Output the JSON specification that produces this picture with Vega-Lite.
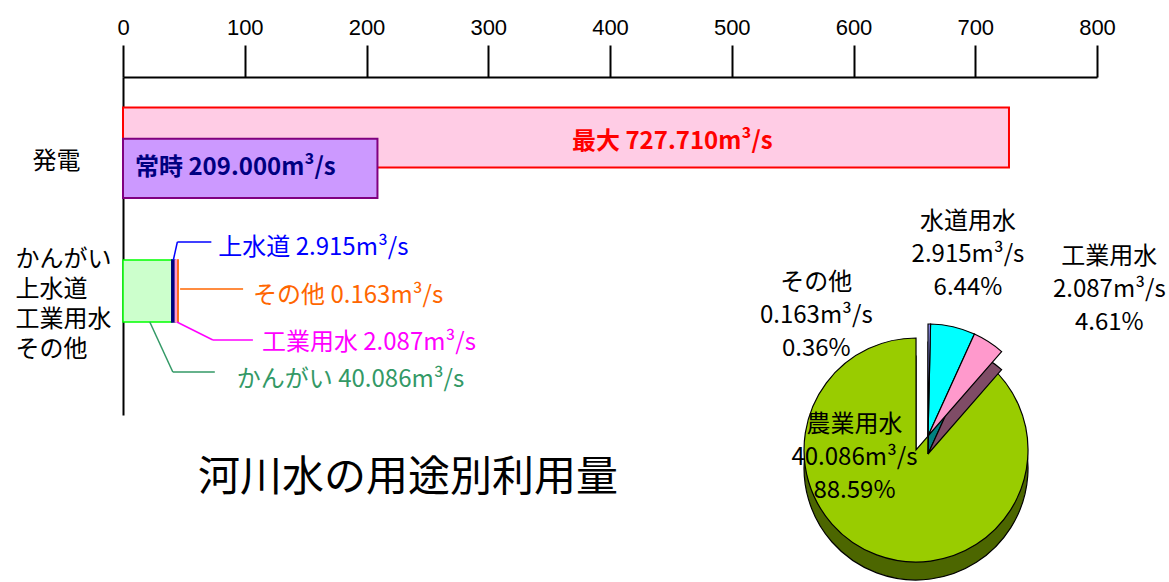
{
  "$schema": "https://vega.github.io/schema/vega-lite/v6.json",
  "width": 974,
  "height": 338,
  "autosize": "none",
  "padding": {"left": 123, "top": 77, "right": 72, "bottom": 167},
  "background": "white",
  "config": {
    "view": {"stroke": null},
    "font": "Noto Sans CJK JP",
    "text": {"font": "Noto Sans CJK JP"}
  },
  "title": {
    "text": "河川水の用途別利用量",
    "orient": "bottom",
    "anchor": "start",
    "frame": "group",
    "dx": 75,
    "offset": -124,
    "font": "Noto Sans CJK JP",
    "fontSize": 42,
    "fontWeight": "normal",
    "color": "#000000"
  },
  "datasets": {
    "hydro": [
      {"use": "発電", "kind": "最大", "value": 727.71},
      {"use": "発電", "kind": "常時", "value": 209.0}
    ],
    "water": [
      {"use": "かんがい・上水道・工業用水・その他", "kind": "かんがい", "pie": "農業用水", "value": 40.086, "barOrder": 1, "pieOrder": 4},
      {"use": "かんがい・上水道・工業用水・その他", "kind": "上水道", "pie": "水道用水", "value": 2.915, "barOrder": 2, "pieOrder": 2},
      {"use": "かんがい・上水道・工業用水・その他", "kind": "工業用水", "pie": "工業用水", "value": 2.087, "barOrder": 3, "pieOrder": 3},
      {"use": "かんがい・上水道・工業用水・その他", "kind": "その他", "pie": "その他", "value": 0.163, "barOrder": 4, "pieOrder": 1}
    ]
  },
  "resolve": {"scale": {"color": "independent", "stroke": "independent"}},
  "layer": [
    {
      "data": {"name": "hydro"},
      "transform": [
        {"calculate": "datum.kind + ' ' + format(datum.value, '.3f') + 'm³/s'", "as": "lab"},
        {"calculate": "datum.value / 2", "as": "mid"}
      ],
      "layer": [
        {
          "transform": [{"filter": "datum.kind === '最大'"}],
          "mark": {"type": "bar", "height": {"band": 0.62}, "yOffset": -15, "fill": "#FFCCE5", "stroke": "#FF0000", "strokeWidth": 2},
          "encoding": {
            "x": {
              "field": "value", "type": "quantitative",
              "scale": {"domain": [0, 800], "nice": false},
              "axis": {
                "orient": "top", "values": [0, 100, 200, 300, 400, 500, 600, 700, 800],
                "title": null, "grid": false,
                "domainColor": "#000000", "domainWidth": 2,
                "tickColor": "#000000", "tickWidth": 2, "tickSize": 32,
                "labelFont": "Liberation Sans", "labelFontSize": 22, "labelColor": "#000000",
                "labelPadding": 6, "labelFlush": false, "labelOverlap": false
              }
            },
            "y": {
              "field": "use", "type": "nominal",
              "scale": {"domain": ["発電", "かんがい・上水道・工業用水・その他"], "paddingInner": 0.3, "paddingOuter": 0.37, "align": 0.263},
              "axis": {
                "title": null, "ticks": false, "tickSize": 0,
                "domainColor": "#000000", "domainWidth": 2,
                "labelExpr": "split(datum.label, '・')",
                "labelFont": "Noto Sans CJK JP", "labelFontSize": 24, "labelColor": "#000000",
                "labelAlign": "left", "labelBaseline": "middle", "labelLineHeight": 30,
                "labelPadding": {"condition": {"test": "datum.value === '発電'", "value": 91}, "value": 108},
                "labelOffset": {"condition": {"test": "datum.value === '発電'", "value": 10}, "value": -31},
                "labelLimit": 0
              }
            }
          }
        },
        {
          "transform": [{"filter": "datum.kind === '常時'"}],
          "mark": {"type": "bar", "height": {"band": 0.61}, "yOffset": 16, "fill": "#CC99FF", "stroke": "#800080", "strokeWidth": 2},
          "encoding": {
            "x": {"field": "value", "type": "quantitative"},
            "y": {"field": "use", "type": "nominal"}
          }
        },
        {
          "transform": [{"filter": "datum.kind === '最大'"}],
          "mark": {"type": "text", "align": "left", "baseline": "middle", "dx": 6, "dy": -10, "fontSize": 24, "fontWeight": "bold", "color": "#FF0000"},
          "encoding": {
            "x": {"field": "mid", "type": "quantitative"},
            "y": {"field": "use", "type": "nominal"},
            "text": {"field": "lab"}
          }
        },
        {
          "transform": [{"filter": "datum.kind === '常時'"}],
          "mark": {"type": "text", "align": "left", "baseline": "middle", "dx": 12, "dy": 16, "fontSize": 24, "fontWeight": "bold", "color": "#000080"},
          "encoding": {
            "x": {"datum": 0, "type": "quantitative"},
            "y": {"field": "use", "type": "nominal"},
            "text": {"field": "lab"}
          }
        }
      ]
    },
    {
      "data": {"name": "water"},
      "transform": [
        {"stack": "value", "groupby": ["use"], "sort": [{"field": "barOrder", "order": "ascending"}], "as": ["x0", "x1"]},
        {"calculate": "datum.kind + ' ' + format(datum.value, '.3f') + 'm³/s'", "as": "lab"}
      ],
      "layer": [
        {
          "mark": {"type": "bar", "height": {"band": 0.64}, "strokeWidth": 1.5},
          "encoding": {
            "x": {"field": "x0", "type": "quantitative"},
            "x2": {"field": "x1"},
            "y": {"field": "use", "type": "nominal"},
            "color": {"field": "kind", "type": "nominal", "legend": null,
              "scale": {"domain": ["かんがい", "上水道", "工業用水", "その他"], "range": ["#CCFFCC", "#000080", "#FF99CC", "#FF6600"]}},
            "stroke": {"field": "kind", "type": "nominal", "legend": null,
              "scale": {"domain": ["かんがい", "上水道", "工業用水", "その他"], "range": ["#00FF00", "#000080", "#FF99CC", "#FF6600"]}}
          }
        },
        {
          "transform": [{"filter": "datum.kind === '上水道'"}],
          "layer": [
            {"mark": {"type": "rule", "xOffset": -2, "x2Offset": 2, "yOffset": -31, "y2Offset": -49, "color": "#0000FF", "strokeWidth": 1.5},
             "encoding": {"x": {"field": "x1", "type": "quantitative"}, "x2": {"field": "x1"}, "y": {"field": "use", "type": "nominal"}, "y2": {"field": "use"}}},
            {"mark": {"type": "rule", "xOffset": 2, "x2Offset": 36, "yOffset": -49, "y2Offset": -49, "color": "#0000FF", "strokeWidth": 1.5},
             "encoding": {"x": {"field": "x1", "type": "quantitative"}, "x2": {"field": "x1"}, "y": {"field": "use", "type": "nominal"}, "y2": {"field": "use"}}},
            {"mark": {"type": "text", "align": "left", "baseline": "middle", "dx": 43, "dy": -43, "fontSize": 24, "color": "#0000FF"},
             "encoding": {"x": {"field": "x1", "type": "quantitative"}, "y": {"field": "use", "type": "nominal"}, "text": {"field": "lab"}}}
          ]
        },
        {
          "transform": [{"filter": "datum.kind === 'その他'"}],
          "layer": [
            {"mark": {"type": "rule", "xOffset": 2, "x2Offset": 65, "yOffset": -2, "y2Offset": -2, "color": "#FF6600", "strokeWidth": 1.5},
             "encoding": {"x": {"field": "x1", "type": "quantitative"}, "x2": {"field": "x1"}, "y": {"field": "use", "type": "nominal"}, "y2": {"field": "use"}}},
            {"mark": {"type": "text", "align": "left", "baseline": "middle", "dx": 75, "dy": 5, "fontSize": 24, "color": "#FF6600"},
             "encoding": {"x": {"field": "x1", "type": "quantitative"}, "y": {"field": "use", "type": "nominal"}, "text": {"field": "lab"}}}
          ]
        },
        {
          "transform": [{"filter": "datum.kind === '工業用水'"}],
          "layer": [
            {"mark": {"type": "rule", "xOffset": -1, "x2Offset": 35, "yOffset": 31, "y2Offset": 49, "color": "#FF00FF", "strokeWidth": 1.5},
             "encoding": {"x": {"field": "x1", "type": "quantitative"}, "x2": {"field": "x1"}, "y": {"field": "use", "type": "nominal"}, "y2": {"field": "use"}}},
            {"mark": {"type": "rule", "xOffset": 35, "x2Offset": 75, "yOffset": 49, "y2Offset": 49, "color": "#FF00FF", "strokeWidth": 1.5},
             "encoding": {"x": {"field": "x1", "type": "quantitative"}, "x2": {"field": "x1"}, "y": {"field": "use", "type": "nominal"}, "y2": {"field": "use"}}},
            {"mark": {"type": "text", "align": "left", "baseline": "middle", "dx": 84, "dy": 52, "fontSize": 24, "color": "#FF00FF"},
             "encoding": {"x": {"field": "x1", "type": "quantitative"}, "y": {"field": "use", "type": "nominal"}, "text": {"field": "lab"}}}
          ]
        },
        {
          "transform": [{"filter": "datum.kind === 'かんがい'"}],
          "layer": [
            {"mark": {"type": "rule", "xOffset": -22, "x2Offset": 1, "yOffset": 31, "y2Offset": 81, "color": "#339966", "strokeWidth": 1.5},
             "encoding": {"x": {"field": "x1", "type": "quantitative"}, "x2": {"field": "x1"}, "y": {"field": "use", "type": "nominal"}, "y2": {"field": "use"}}},
            {"mark": {"type": "rule", "xOffset": 1, "x2Offset": 43, "yOffset": 81, "y2Offset": 81, "color": "#339966", "strokeWidth": 1.5},
             "encoding": {"x": {"field": "x1", "type": "quantitative"}, "x2": {"field": "x1"}, "y": {"field": "use", "type": "nominal"}, "y2": {"field": "use"}}},
            {"mark": {"type": "text", "align": "left", "baseline": "middle", "dx": 65, "dy": 89, "fontSize": 24, "color": "#339966"},
             "encoding": {"x": {"field": "x1", "type": "quantitative"}, "y": {"field": "use", "type": "nominal"}, "text": {"field": "lab"}}}
          ]
        }
      ]
    },
    {
      "data": {"name": "water"},
      "transform": [
        {"stack": "value", "groupby": [], "sort": [{"field": "pieOrder", "order": "ascending"}], "offset": "normalize", "as": ["t0", "t1"]},
        {"calculate": "(datum.t0 + datum.t1) / 2", "as": "mid"},
        {"calculate": "datum.pie + '\\n' + format(datum.value, '.3f') + 'm³/s\\n' + format(datum.t1 - datum.t0, '.2%')", "as": "pieLabel"}
      ],
      "resolve": {"scale": {"color": "independent"}},
      "layer": [
        {
          "transform": [{"filter": "datum.pie === '農業用水'"}],
          "mark": {"type": "arc", "outerRadius": 112, "x": {"expr": "width * 0.8142"}, "y": {"expr": "height * 1.1568"}, "fill": "#4C6600", "stroke": "#000000", "strokeWidth": 1.2},
          "encoding": {
            "theta": {"field": "t0", "type": "quantitative", "scale": {"domain": [0, 1]}},
            "theta2": {"field": "t1"}
          }
        },
        {
          "transform": [{"filter": "datum.pie === '農業用水'"}],
          "mark": {"type": "arc", "outerRadius": 112, "x": {"expr": "width * 0.8142"}, "y": {"expr": "height * 1.1036"}, "fill": "#99CC00", "stroke": "#000000", "strokeWidth": 1.2},
          "encoding": {
            "theta": {"field": "t0", "type": "quantitative", "scale": {"domain": [0, 1]}},
            "theta2": {"field": "t1"}
          }
        },
        {
          "transform": [{"filter": "datum.pie !== '農業用水'"}],
          "mark": {"type": "arc", "outerRadius": 112, "x": {"expr": "width * 0.8265"}, "y": {"expr": "height * 1.1154"}, "stroke": "#000000", "strokeWidth": 1.2},
          "encoding": {
            "theta": {"field": "t0", "type": "quantitative", "scale": {"domain": [0, 1]}},
            "theta2": {"field": "t1"},
            "color": {"field": "pie", "type": "nominal", "legend": null,
              "scale": {"domain": ["水道用水", "工業用水", "その他"], "range": ["#008080", "#7F4C66", "#333399"]}}
          }
        },
        {
          "transform": [{"filter": "datum.pie !== '農業用水'"}],
          "mark": {"type": "arc", "outerRadius": 112, "x": {"expr": "width * 0.8265"}, "y": {"expr": "height * 1.0621"}, "stroke": "#000000", "strokeWidth": 1.2},
          "encoding": {
            "theta": {"field": "t0", "type": "quantitative", "scale": {"domain": [0, 1]}},
            "theta2": {"field": "t1"},
            "color": {"field": "pie", "type": "nominal", "legend": null,
              "scale": {"domain": ["水道用水", "工業用水", "その他"], "range": ["#00FFFF", "#FF99CC", "#9999FF"]}}
          }
        },
        {
          "transform": [{"filter": "datum.pie === '水道用水'"}],
          "mark": {"type": "text", "x": {"expr": "width * 0.8265"}, "y": {"expr": "height * 1.0621"}, "radius": 188, "dx": -2, "dy": -31, "align": "center", "baseline": "middle", "lineBreak": "\n", "lineHeight": 33, "fontSize": 24, "color": "#000000"},
          "encoding": {"theta": {"field": "mid", "type": "quantitative", "scale": {"domain": [0, 1]}}, "text": {"field": "pieLabel"}}
        },
        {
          "transform": [{"filter": "datum.pie === '工業用水'"}],
          "mark": {"type": "text", "x": {"expr": "width * 0.8265"}, "y": {"expr": "height * 1.0621"}, "radius": 200, "dx": 73, "dy": -11, "align": "center", "baseline": "middle", "lineBreak": "\n", "lineHeight": 33, "fontSize": 24, "color": "#000000"},
          "encoding": {"theta": {"field": "mid", "type": "quantitative", "scale": {"domain": [0, 1]}}, "text": {"field": "pieLabel"}}
        },
        {
          "transform": [{"filter": "datum.pie === 'その他'"}],
          "mark": {"type": "text", "x": {"expr": "width * 0.8265"}, "y": {"expr": "height * 1.0621"}, "radius": 113, "dx": -113, "dy": -40, "align": "center", "baseline": "middle", "lineBreak": "\n", "lineHeight": 33, "fontSize": 24, "color": "#000000"},
          "encoding": {"theta": {"field": "mid", "type": "quantitative", "scale": {"domain": [0, 1]}}, "text": {"field": "pieLabel"}}
        },
        {
          "transform": [{"filter": "datum.pie === '農業用水'"}],
          "mark": {"type": "text", "x": {"expr": "width * 0.8142"}, "y": {"expr": "height * 1.1036"}, "radius": 50, "dx": -44, "dy": -72, "align": "center", "baseline": "middle", "lineBreak": "\n", "lineHeight": 33, "fontSize": 24, "color": "#000000"},
          "encoding": {"theta": {"field": "mid", "type": "quantitative", "scale": {"domain": [0, 1]}}, "text": {"field": "pieLabel"}}
        }
      ]
    }
  ]
}
